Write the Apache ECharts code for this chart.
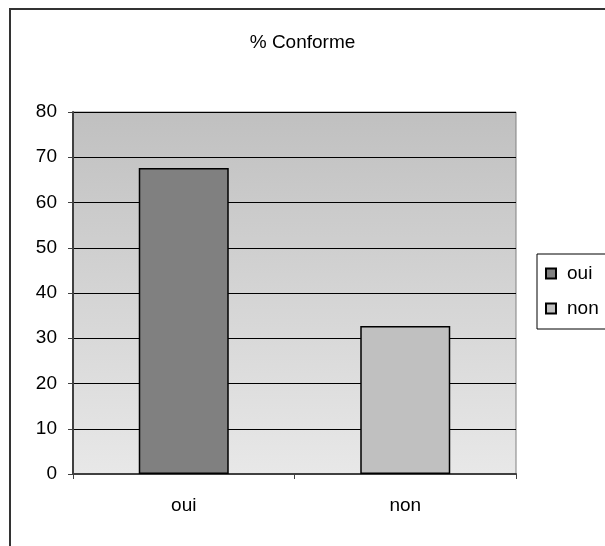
<!DOCTYPE html>
<html>
<head>
<meta charset="utf-8">
<script src="https://cdn.jsdelivr.net/npm/echarts@6/dist/echarts.min.js"></script>
<style>
html,body{margin:0;padding:0;background:#fff;}
#chart{width:605px;height:546px;}
</style>
</head>
<body>
<div id="chart"></div>
<script>
var titleText = '% Conforme';
var categories = ['oui', 'non'];
var values = [67.6, 32.7];
var barColors = ['#808080', '#c0c0c0'];
var yTicks = [0, 10, 20, 30, 40, 50, 60, 70, 80];

var FONT = '"Liberation Sans", Arial, sans-serif';
var chart = echarts.init(document.getElementById('chart'), null, {renderer: 'canvas'});

var series = categories.map(function (name, i) {
  return {
    name: name,
    type: 'bar',
    stack: 'all',
    barWidth: 90,
    data: categories.map(function (c, j) { return j === i ? values[i] : '-'; }),
    itemStyle: {color: barColors[i], borderColor: '#000', borderWidth: 1.5},
    emphasis: {disabled: true}
  };
});

chart.setOption({
  animation: false,
  backgroundColor: '#fff',
  title: {
    text: titleText, left: 'center', top: 28,
    textStyle: {fontFamily: FONT, fontSize: 19, fontWeight: 'normal', color: '#000'}
  },
  graphic: [{
    type: 'rect', left: 9, top: 8, z: -10,
    shape: {width: 700, height: 700},
    style: {fill: 'transparent', stroke: '#333', lineWidth: 2}
  }],
  legend: {
    orient: 'vertical', left: 537, top: 254,
    padding: [10, 30, 11, 8],
    icon: 'rect',
    itemWidth: 10, itemHeight: 10, itemGap: 16,
    backgroundColor: '#fff', borderColor: '#000', borderWidth: 1,
    textStyle: {fontFamily: FONT, fontSize: 19, color: '#000', padding: [0, 0, 0, 6]},
    data: categories
  },
  grid: {
    left: 73, right: 89, top: 112, bottom: 72,
    show: true, borderColor: '#808080', borderWidth: 1,
    backgroundColor: new echarts.graphic.LinearGradient(0, 0, 0, 1, [
      {offset: 0, color: '#c0c0c0'}, {offset: 1, color: '#e8e8e8'}
    ])
  },
  xAxis: {
    type: 'category', data: categories,
    axisLine: {lineStyle: {color: '#404040', width: 2}},
    axisTick: {show: true, length: 5, lineStyle: {color: '#404040'}},
    axisLabel: {fontFamily: FONT, fontSize: 19, color: '#000', margin: 22}
  },
  yAxis: {
    type: 'value', min: yTicks[0], max: yTicks[yTicks.length - 1], interval: 10,
    axisLine: {show: true, lineStyle: {color: '#404040', width: 2}},
    axisTick: {show: true, length: 5, lineStyle: {color: '#404040'}},
    axisLabel: {fontFamily: FONT, fontSize: 19, color: '#000', margin: 16},
    splitLine: {show: true, lineStyle: {color: '#000', width: 1}}
  },
  series: series
});
</script>
</body>
</html>
